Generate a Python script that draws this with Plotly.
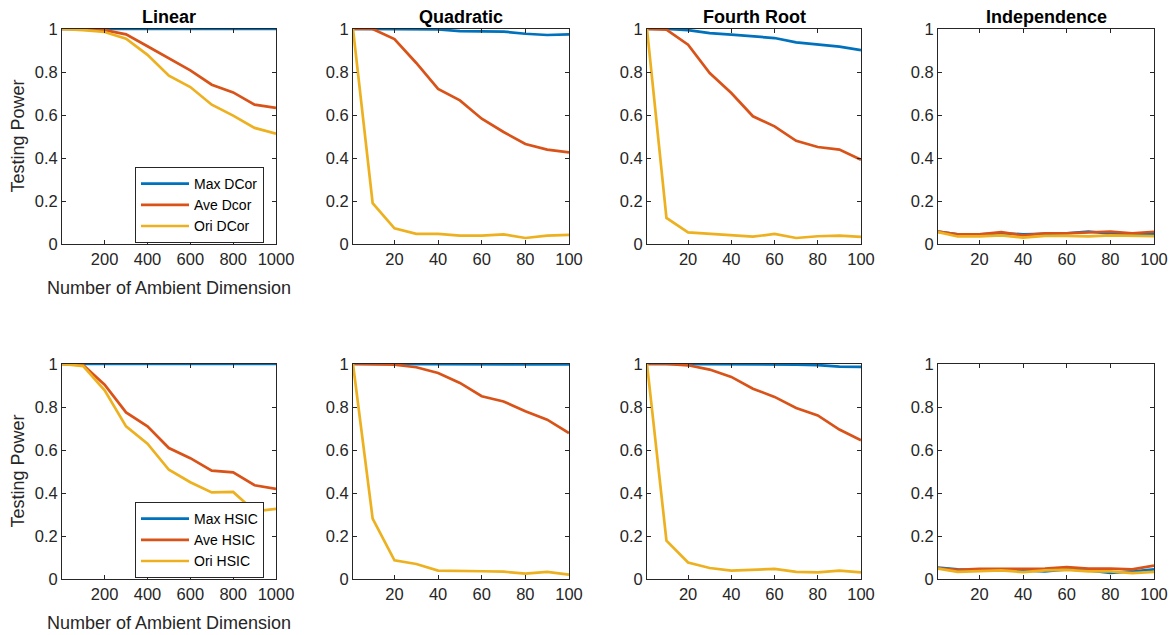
import plotly.graph_objects as go

# ---------------- data ----------------
x_ambient = [1, 100, 200, 300, 400, 500, 600, 700, 800, 900, 1000]
x_dim = [1, 10, 20, 30, 40, 50, 60, 70, 80, 90, 100]

panel_titles = ["Linear", "Quadratic", "Fourth Root", "Independence"]
names_dcor = ["Max DCor", "Ave Dcor", "Ori DCor"]
names_hsic = ["Max HSIC", "Ave HSIC", "Ori HSIC"]

# Row 1: DCor
lin_max_dcor = [1, 1, 1, 1, 1, 1, 1, 1, 1, 1, 1]
lin_ave_dcor = [1, 1, 0.995, 0.975, 0.92, 0.865, 0.808, 0.741, 0.705, 0.648, 0.633]
lin_ori_dcor = [1, 0.995, 0.986, 0.955, 0.88, 0.783, 0.73, 0.648, 0.597, 0.54, 0.513]

quad_max_dcor = [1, 1, 1, 1, 0.998, 0.99, 0.988, 0.988, 0.978, 0.972, 0.975]
quad_ave_dcor = [1, 1, 0.953, 0.842, 0.721, 0.668, 0.583, 0.521, 0.465, 0.439, 0.426]
quad_ori_dcor = [1, 0.19, 0.073, 0.047, 0.047, 0.039, 0.039, 0.045, 0.028, 0.039, 0.042]

four_max_dcor = [1, 1, 0.995, 0.981, 0.974, 0.966, 0.958, 0.938, 0.929, 0.918, 0.902]
four_ave_dcor = [1, 0.997, 0.927, 0.795, 0.702, 0.594, 0.547, 0.48, 0.451, 0.439, 0.392]
four_ori_dcor = [1, 0.121, 0.054, 0.047, 0.04, 0.034, 0.047, 0.028, 0.036, 0.039, 0.033]

ind_max_dcor = [0.058, 0.045, 0.045, 0.05, 0.045, 0.048, 0.05, 0.058, 0.048, 0.048, 0.048]
ind_ave_dcor = [0.058, 0.045, 0.045, 0.055, 0.04, 0.05, 0.05, 0.053, 0.058, 0.05, 0.057]
ind_ori_dcor = [0.055, 0.035, 0.035, 0.04, 0.03, 0.038, 0.038, 0.035, 0.04, 0.038, 0.037]

# Row 2: HSIC
lin_max_hsic = [1, 1, 1, 1, 1, 1, 1, 1, 1, 1, 1]
lin_ave_hsic = [1, 0.995, 0.904, 0.775, 0.71, 0.609, 0.562, 0.504, 0.496, 0.436, 0.419]
lin_ori_hsic = [1, 0.99, 0.878, 0.71, 0.629, 0.508, 0.45, 0.403, 0.405, 0.315, 0.326]

quad_max_hsic = [1, 1, 1, 1, 1, 1, 1, 1, 1, 0.998, 0.998]
quad_ave_hsic = [1, 1, 0.997, 0.985, 0.958, 0.912, 0.85, 0.826, 0.78, 0.741, 0.679]
quad_ori_hsic = [1, 0.281, 0.087, 0.07, 0.039, 0.036, 0.036, 0.034, 0.025, 0.033, 0.02]

four_max_hsic = [1, 1, 1, 1, 0.998, 0.998, 0.998, 0.997, 0.995, 0.988, 0.987]
four_ave_hsic = [1, 1, 0.994, 0.974, 0.94, 0.885, 0.847, 0.795, 0.761, 0.695, 0.645]
four_ori_hsic = [1, 0.178, 0.077, 0.051, 0.039, 0.043, 0.047, 0.033, 0.031, 0.039, 0.031]

ind_max_hsic = [0.053, 0.045, 0.04, 0.04, 0.04, 0.035, 0.045, 0.04, 0.028, 0.035, 0.045]
ind_ave_hsic = [0.05, 0.043, 0.047, 0.047, 0.048, 0.048, 0.055, 0.048, 0.048, 0.045, 0.062]
ind_ori_hsic = [0.048, 0.033, 0.037, 0.04, 0.032, 0.04, 0.042, 0.035, 0.035, 0.027, 0.033]

x_ticks_ambient = [200, 400, 600, 800, 1000]
x_ticks_dim = [20, 40, 60, 80, 100]
y_ticks = [0, 0.2, 0.4, 0.6, 0.8, 1]

x_label = "Number of Ambient Dimension"
y_label = "Testing Power"

colors = ["#0072BD", "#D95319", "#EDB120"]

rows = [
    [(lin_max_dcor, lin_ave_dcor, lin_ori_dcor), (quad_max_dcor, quad_ave_dcor, quad_ori_dcor),
     (four_max_dcor, four_ave_dcor, four_ori_dcor), (ind_max_dcor, ind_ave_dcor, ind_ori_dcor)],
    [(lin_max_hsic, lin_ave_hsic, lin_ori_hsic), (quad_max_hsic, quad_ave_hsic, quad_ori_hsic),
     (four_max_hsic, four_ave_hsic, four_ori_hsic), (ind_max_hsic, ind_ave_hsic, ind_ori_hsic)],
]
row_names = [names_dcor, names_hsic]

# ---------------- layout geometry ----------------
W, H = 1174, 635
col_px = [(62, 276), (353, 569), (647, 861), (938, 1154)]
row_px = [(29, 244), (364, 579)]

FONT = "Liberation Sans, Arial, sans-serif"
AX = "#262626"
TICK_SIZE = 16.5
LABEL_SIZE = 18

fig = go.Figure()
layout = dict(
    width=W, height=H,
    margin=dict(l=0, r=0, t=0, b=0, pad=0, autoexpand=False),
    paper_bgcolor="white", plot_bgcolor="white",
    font=dict(family=FONT, color=AX, size=TICK_SIZE),
    annotations=[],
)

idx = 0
for r in range(2):
    for c in range(4):
        idx += 1
        xa = "x" if idx == 1 else f"x{idx}"
        ya = "y" if idx == 1 else f"y{idx}"
        xkey = "xaxis" if idx == 1 else f"xaxis{idx}"
        ykey = "yaxis" if idx == 1 else f"yaxis{idx}"
        xs = x_ambient if c == 0 else x_dim
        xt = x_ticks_ambient if c == 0 else x_ticks_dim
        legend_name = "legend" if r == 0 else "legend2"
        for k in range(3):
            fig.add_trace(go.Scatter(
                x=xs, y=rows[r][c][k], mode="lines",
                line=dict(color=colors[k], width=2.7),
                name=row_names[r][k], xaxis=xa, yaxis=ya,
                showlegend=(c == 0), legend=legend_name,
            ))
        x0, x1 = col_px[c]
        y0, y1 = row_px[r]
        layout[xkey] = dict(
            domain=[x0 / W, x1 / W], anchor=ya, range=[xs[0], xs[-1]],
            tickvals=xt, ticks="inside", ticklen=4, tickcolor=AX,
            showline=True, linecolor=AX, linewidth=1, mirror="ticks",
            showgrid=False, zeroline=False, automargin=False,
            tickfont=dict(size=TICK_SIZE, color=AX, family=FONT),
        )
        layout[ykey] = dict(
            domain=[1 - y1 / H, 1 - y0 / H], anchor=xa, range=[0, 1],
            tickvals=y_ticks, ticks="inside", ticklen=4, tickcolor=AX,
            showline=True, linecolor=AX, linewidth=1, mirror="ticks",
            showgrid=False, zeroline=False, automargin=False,
            tickfont=dict(size=TICK_SIZE, color=AX, family=FONT),
        )
        if r == 0:
            layout["annotations"].append(dict(
                text=f"<b>{panel_titles[c]}</b>", xref="paper", yref="paper",
                x=(x0 + x1) / 2 / W, y=1 - 17 / H, xanchor="center", yanchor="middle",
                showarrow=False, font=dict(size=LABEL_SIZE, color="black", family=FONT),
            ))
        if c == 0:
            layout["annotations"].append(dict(
                text=y_label, xref="paper", yref="paper", textangle=-90,
                x=17 / W, y=1 - (y0 + y1) / 2 / H, xanchor="center", yanchor="middle",
                showarrow=False, font=dict(size=LABEL_SIZE, color=AX, family=FONT),
            ))
            layout["annotations"].append(dict(
                text=x_label, xref="paper", yref="paper",
                x=(x0 + x1) / 2 / W, y=1 - (y1 + 44) / H, xanchor="center", yanchor="middle",
                showarrow=False, font=dict(size=LABEL_SIZE, color=AX, family=FONT),
            ))

leg_common = dict(
    xanchor="left", yanchor="top", bgcolor="white",
    bordercolor=AX, borderwidth=1,
    font=dict(size=14, color="black", family=FONT),
    itemwidth=48, tracegroupgap=0,
)
layout["legend"] = dict(x=135 / W, y=1 - 167 / H, **leg_common)
layout["legend2"] = dict(x=135 / W, y=1 - 502 / H, **leg_common)

fig.update_layout(**layout)
fig.write_html(
    "out.html",
    config={"displayModeBar": False},
    post_script="document.documentElement.style.margin='0';document.body.style.margin='0';document.body.style.padding='0';document.body.style.overflow='hidden';",
)
